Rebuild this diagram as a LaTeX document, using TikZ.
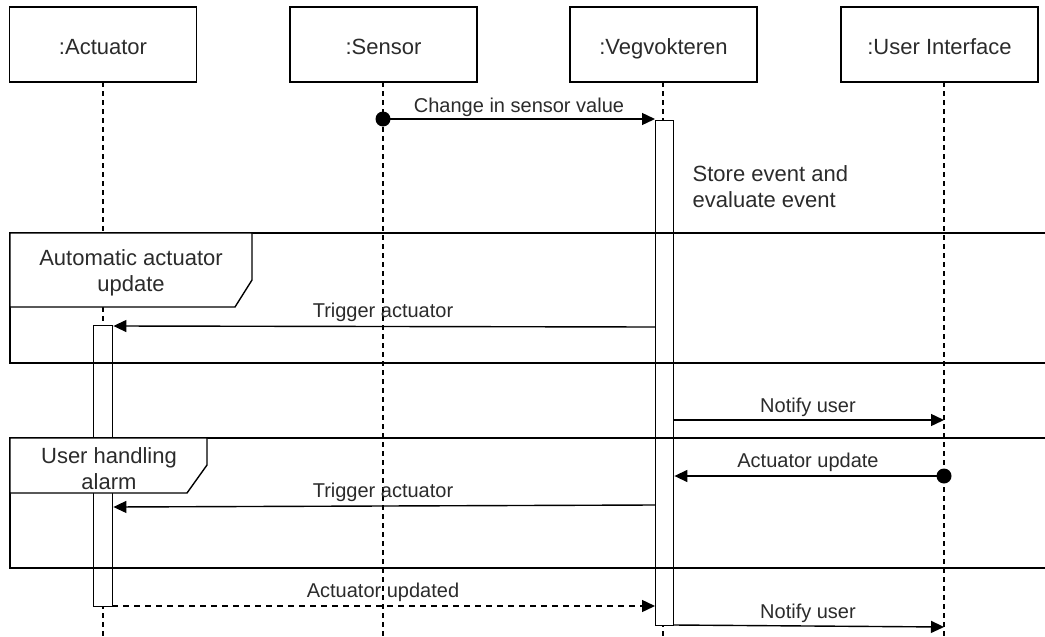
\documentclass[tikz,border=0pt]{standalone}
\usepackage{fontspec}
\setmainfont{Liberation Sans}
\usetikzlibrary{arrows.meta}
\definecolor{ink}{HTML}{2B2B2B}
\begin{document}
\begin{tikzpicture}[x=1pt,y=-1pt,
  line width=1.4pt,
  big/.style={font=\fontsize{22}{26}\selectfont, text=ink},
  small/.style={font=\fontsize{20}{24}\selectfont, text=ink},
  head/.style={draw, big, inner sep=0pt, minimum height=75pt, minimum width=187pt,
               text height=20pt, text depth=0pt},
  actbox/.style={draw, fill=white, inner sep=0pt, minimum width=18pt, anchor=north west},
  lifeline/.style={line width=1.2pt, dash pattern=on 5pt off 4pt},
  msg/.style={-{Triangle[length=13pt,width=12pt]}},
  reply/.style={msg, dash pattern=on 6pt off 5pt},
  lbl/.style={small, anchor=base, inner sep=0pt},
  frametab/.style={draw, fill=white},
  framelbl/.style={big, align=center, inner sep=0pt},
  startdot/.style={fill=black}
]
\useasboundingbox (0,0) rectangle (1045,637);

% participants
\node[head] (act) at (103,44.5) {:Actuator};
\node[head] (sen) at (383.5,44.5) {:Sensor};
\node[head] (veg) at (663.5,44.5) {:Vegvokteren};
\node[head, minimum width=197pt] (ui) at (939.5,44.5) {:User Interface};

% lifelines
\foreach \p/\x in {act/103,sen/383,veg/663,ui/944}
  \draw[lifeline] (\x,82) -- (\x,637);

% activation bars
\node[actbox, minimum height=505pt] (vact) at (655,120) {};
\node[actbox, minimum height=281pt, minimum width=19pt] (aact) at (93,325) {};

% combined fragments
\draw (1046,233) -| (10,363) -- (1046,363);
\draw[frametab] (10,233) -- (252,233) -- (252,280) -- (235,307) -- (10,307) -- cycle;
\node[framelbl] (f1) at (131,273) {Automatic actuator\\update};

\draw (1046,438) -| (10,568) -- (1046,568);
\draw[frametab] (10,438) -- (207,438) -- (207,465) -- (187,493) -- (10,493) -- cycle;
\node[framelbl] (f2) at (109,469) {User handling\\alarm};

% sensor value change
\coordinate (c1) at (383,119);
\fill[startdot] (c1) circle (7.5pt);
\draw[msg] (c1) -- (vact.west |- c1);
\node[lbl] (l1) at (519,112) {Change in sensor value};

\node[big, anchor=base west, align=left, inner sep=0pt] (note) at (692,207)
  {Store event and\\evaluate event};

% automatic trigger
\coordinate (c2) at (655,327);
\draw[msg] (c2) -- (aact.east |- 0,326);
\node[lbl] (l2) at (383,317) {Trigger actuator};

% notify user
\coordinate (c3) at (673,420);
\draw[msg] (c3) -- (944,420);
\node[lbl] (l3) at (808,412) {Notify user};

% user response
\coordinate (c4) at (944,476);
\fill[startdot] (c4) circle (7.5pt);
\draw[msg] (c4) -- (vact.east |- c4);
\node[lbl] (l4) at (808,467) {Actuator update};

% manual trigger
\coordinate (c5) at (655,505);
\draw[msg] (c5) -- (aact.east |- 0,507);
\node[lbl] (l5) at (383,497) {Trigger actuator};

% actuator reply
\coordinate (c6) at (112,606);
\draw[reply] (c6) -- (vact.west |- c6);
\node[lbl] (l6) at (383,597) {Actuator updated};

% final notification
\coordinate (c7) at (673,625);
\draw[msg] (c7) -- (944,627);
\node[lbl] (l7) at (808,618) {Notify user};
\end{tikzpicture}
\end{document}
